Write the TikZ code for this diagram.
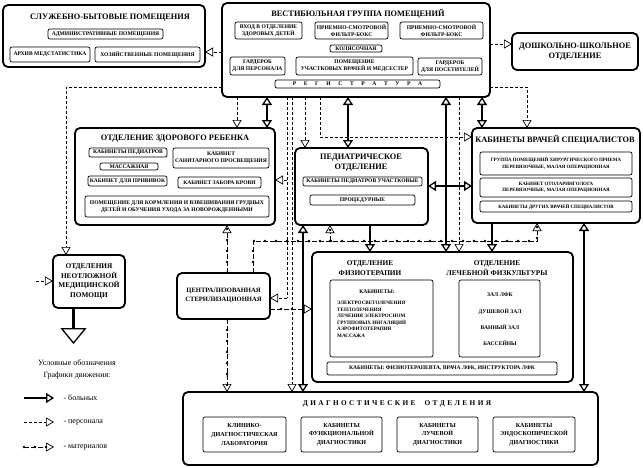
\documentclass[tikz,border=0pt]{standalone}
\usepackage{fontspec}
\setmainfont{Liberation Serif}
\usetikzlibrary{arrows.meta,decorations.markings}

\newcommand\ttlf{\fontsize{8.3}{9.8}\selectfont\bfseries}
\newcommand\midf{\fontsize{7.3}{9.6}\selectfont\bfseries}
\newcommand\smf{\fontsize{5.6}{6.6}\selectfont\bfseries}
\newcommand\tnf{\fontsize{4.9}{6.2}\selectfont\bfseries}
\newcommand\dgf{\fontsize{6.1}{8.6}\selectfont\bfseries}
\newcommand\lgf{\fontsize{8}{9}\selectfont}
\newcommand\gapA{\hspace{2.4pt}}
\newcommand\gapR{\hspace{7.6pt}}
\newcommand\mybox[6]{\node[#1, minimum width={(#4-#2)*1pt}, minimum height={(#5-#3)*1pt}] (#6) at ({(#2+#4)/2},{(#3+#5)/2})}

\tikzset{
 bigbox/.style={draw, line width=1.8pt, rounded corners=5pt, inner sep=0pt, outer sep=0pt},
 subbox/.style={draw, line width=0.7pt, rounded corners=2pt, inner sep=0pt, outer sep=0pt, align=center, font=\smf},
 ttl/.style={inner sep=0pt, align=center, font=\ttlf},
 tpat/.tip={Triangle[open, width=10pt, length=8pt, line width=1.3pt]},
 tstf/.tip={Triangle[open, width=9pt, length=8pt, line width=0.7pt]},
 patient/.style={line width=2.2pt},
 staffl/.style={line width=0.7pt, dash pattern=on 3pt off 2pt},
 matl/.style={line width=0.7pt, dash pattern=on 5pt off 2pt,
   postaction={decorate, decoration={markings, mark=between positions 0 and 1 step 11pt with {\fill circle (1.3pt);}}}},
}

\begin{document}
\begin{tikzpicture}[x=1pt,y=-1pt]
\fill[white] (0,0) rectangle (643,467);
\useasboundingbox (0,0) rectangle (643,467);

% ---------- service rooms
\mybox{bigbox}{3}{5}{205}{67}{sb} {};
\node[ttl] (sbt) at (110,18) {СЛУЖЕБНО-БЫТОВЫЕ ПОМЕЩЕНИЯ};
\mybox{subbox}{48}{29}{163}{39}{sb1} {АДМИНИСТРАТИВНЫЕ ПОМЕЩЕНИЯ};
\mybox{subbox}{10}{47}{90}{62}{sb2} {АРХИВ МЕДСТАТИСТИКА};
\mybox{subbox}{95}{47}{200}{62}{sb3} {ХОЗЯЙСТВЕННЫЕ ПОМЕЩЕНИЯ};

% ---------- vestibule
\mybox{bigbox}{222}{3}{490}{97}{vg} {};
\node[ttl] (vgt) at (358,14) {ВЕСТИБЮЛЬНАЯ ГРУППА ПОМЕЩЕНИЙ};
\mybox{subbox}{235}{22}{302}{39}{v1} {ВХОД В ОТДЕЛЕНИЕ\\ЗДОРОВЫХ ДЕТЕЙ};
\mybox{subbox}{315}{22}{388}{39}{v2} {ПРИЕМНО-СМОТРОВОЙ\\ФИЛЬТР-БОКС};
\mybox{subbox}{400}{22}{483}{39}{v3} {ПРИЕМНО-СМОТРОВОЙ\\ФИЛЬТР-БОКС};
\mybox{subbox}{330}{45}{382}{52}{v4} {КОЛЯСОЧНАЯ};
\mybox{subbox}{230}{57}{285}{75}{v5} {ГАРДЕРОБ\\ДЛЯ ПЕРСОНАЛА};
\mybox{subbox}{296}{57}{413}{75}{v6} {ПОМЕЩЕНИЕ\\УЧАСТКОВЫХ ВРАЧЕЙ И МЕДСЕСТЕР};
\mybox{subbox}{418}{58}{482}{75}{v7} {ГАРДЕРОБ\\ДЛЯ ПОСЕТИТЕЛЕЙ};
\mybox{subbox}{275}{80}{440}{88}{v8} {Р\gapR Е\gapR Г\gapR И\gapR С\gapR Т\gapR Р\gapR А\gapR Т\gapR У\gapR Р\gapR А};

% ---------- preschool
\mybox{bigbox,align=center,font=\ttlf}{512}{33}{638}{70}{dsh} {ДОШКОЛЬНО-ШКОЛЬНОЕ\\ОТДЕЛЕНИЕ};

% ---------- healthy child
\mybox{bigbox}{75}{128}{275}{225}{zd} {};
\node[ttl] (zdt) at (175,139) {ОТДЕЛЕНИЕ ЗДОРОВОГО РЕБЕНКА};
\mybox{subbox}{89}{148}{167}{157}{z1} {КАБИНЕТЫ ПЕДИАТРОВ};
\mybox{subbox}{100}{163}{158}{170}{z2} {МАССАЖНАЯ};
\mybox{subbox}{88}{176}{167}{186}{z3} {КАБИНЕТ ДЛЯ ПРИВИВОК};
\mybox{subbox}{173}{148}{269}{168}{z4} {КАБИНЕТ\\САНИТАРНОГО ПРОСВЕЩЕНИЯ};
\mybox{subbox}{178}{177}{261}{188}{z5} {КАБИНЕТ ЗАБОРА КРОВИ};
\mybox{subbox}{85}{196}{269}{217}{z6} {ПОМЕЩЕНИЕ ДЛЯ КОРМЛЕНИЯ И ВЗВЕШИВАНИЯ ГРУДНЫХ\\ДЕТЕЙ И ОБУЧЕНИЯ УХОДА ЗА НОВОРОЖДЕННЫМИ};

% ---------- pediatric
\mybox{bigbox}{295}{148}{428}{225}{pd} {};
\node[ttl] (pdt) at (361,163) {ПЕДИАТРИЧЕСКОЕ\\ОТДЕЛЕНИЕ};
\mybox{subbox}{303}{177}{422}{186}{p1} {КАБИНЕТЫ ПЕДИАТРОВ УЧАСТКОВЫЕ};
\mybox{subbox}{310}{195}{415}{205}{p2} {ПРОЦЕДУРНЫЕ};

% ---------- specialists
\mybox{bigbox}{472}{128}{640}{223}{sp} {};
\node[ttl] (spt) at (555,140) {КАБИНЕТЫ ВРАЧЕЙ СПЕЦИАЛИСТОВ};
\mybox{subbox,font=\tnf}{480}{152}{632}{175}{s1} {ГРУППА ПОМЕЩЕНИЙ ХИРУРГИЧЕСКОГО ПРИЕМА\\ПЕРЕВЯЗОЧНЫЕ, МАЛАЯ ОПЕРАЦИОННАЯ};
\mybox{subbox,font=\tnf}{480}{178}{632}{197}{s2} {КАБИНЕТ ОТОЛАРИНГОЛОГА\\ПЕРЕВЯЗОЧНЫЕ, МАЛАЯ ОПЕРАЦИОННАЯ};
\mybox{subbox,font=\tnf}{480}{201}{632}{212}{s3} {КАБИНЕТЫ ДРУГИХ ВРАЧЕЙ СПЕЦИАЛИСТОВ};

% ---------- emergency
\mybox{bigbox,align=center,font=\midf}{53}{255}{125}{308}{nm} {ОТДЕЛЕНИЯ\\НЕОТЛОЖНОЙ\\МЕДИЦИНСКОЙ\\ПОМОЩИ};

% ---------- sterilization
\mybox{bigbox,align=center,font=\fontsize{6.6}{9}\selectfont\bfseries}{177}{273}{270}{319}{cs} {ЦЕНТРАЛИЗОВАННАЯ\\СТЕРИЛИЗАЦИОННАЯ};

% ---------- physiotherapy / exercise
\mybox{bigbox}{312}{252}{573}{382}{fz} {};
\node[ttl,font=\midf] (fzt1) at (370,268) {ОТДЕЛЕНИЕ\\ФИЗИОТЕРАПИИ};
\node[ttl,font=\midf] (fzt2) at (497,268) {ОТДЕЛЕНИЕ\\ЛЕЧЕБНОЙ ФИЗКУЛЬТУРЫ};
\mybox{subbox}{330}{280}{433}{357}{f1} {};
\node[inner sep=0pt,font=\smf] (f1t) at (377,292) {КАБИНЕТЫ:};
\node[inner sep=0pt,anchor=north west,align=left,font=\fontsize{5.1}{6.6}\selectfont\bfseries] (f1l) at (337,301)
  {ЭЛЕКТРОСВЕТОЛЕЧЕНИЯ\\ТЕПЛОЛЕЧЕНИЯ\\ЛЕЧЕНИЯ ЭЛЕКТРОСНОМ\\ГРУППОВЫХ ИНГАЛЯЦИЙ\\АЭРОФИТОТЕРАПИЯ\\МАССАЖА};
\mybox{subbox}{459}{280}{540}{357}{f2} {};
\node[inner sep=0pt,align=center,font=\fontsize{5.6}{16.4}\selectfont\bfseries] (f2l) at (500,319.5)
  {ЗАЛ ЛФК\\ДУШЕВОЙ ЗАЛ\\ВАННЫЙ ЗАЛ\\БАССЕЙНЫ};
\mybox{subbox}{327}{362}{557}{375}{f3} {КАБИНЕТЫ: ФИЗИОТЕРАПЕВТА, ВРАЧА ЛФК, ИНСТРУКТОРА ЛФК};

% ---------- diagnostics
\mybox{bigbox}{183}{392}{598}{465}{dg} {};
\node[ttl,font=\fontsize{7.3}{8}\selectfont\bfseries] (dgt) at (397,404)
 {Д\gapA И\gapA А\gapA Г\gapA Н\gapA О\gapA С\gapA Т\gapA И\gapA Ч\gapA Е\gapA С\gapA К\gapA И\gapA Е\hspace{9pt}О\gapA Т\gapA Д\gapA Е\gapA Л\gapA Е\gapA Н\gapA И\gapA Я};
\mybox{subbox,font=\dgf}{203}{417}{286}{452}{d1} {КЛИНИКО-\\ДИАГНОСТИЧЕСКАЯ\\ЛАБОРАТОРИЯ};
\mybox{subbox,font=\dgf}{301}{417}{382}{452}{d2} {КАБИНЕТЫ\\ФУНКЦИОНАЛЬНОЙ\\ДИАГНОСТИКИ};
\mybox{subbox,font=\dgf}{397}{417}{478}{452}{d3} {КАБИНЕТЫ\\ЛУЧЕВОЙ\\ДИАГНОСТИКИ};
\mybox{subbox,font=\dgf}{493}{417}{575}{452}{d4} {КАБИНЕТЫ\\ЭНДОСКОПИЧЕСКОЙ\\ДИАГНОСТИКИ};

% ---------- patient flows
\draw[patient,tpat-tpat] (267,0 |- vg.south) -- (267,0 |- zd.north);
\draw[patient,tpat-tpat] (348,0 |- vg.south) -- (348,0 |- pd.north);
\draw[patient,tpat-tpat] (446,0 |- vg.south) -- (446,0 |- fz.north);
\draw[patient,tpat-tpat] (482,0 |- vg.south) -- (482,0 |- sp.north);
\draw[patient,tpat-tpat] (pd.east |- 0,186) -- (sp.west |- 0,186);
\draw[patient,-tpat] (370,0 |- pd.south) -- (370,0 |- fz.north);
\draw[patient,-tpat] (492,0 |- sp.south) -- (492,0 |- fz.north);
\draw[patient,tpat-tpat] (303,0 |- pd.south) -- (303,0 |- dg.north);
\draw[patient,tpat-tpat] (584,0 |- sp.south) -- (584,0 |- dg.north);
\coordinate (nmout) at (73.5,344);
\draw[patient,-{Triangle[open,width=26pt,length=16pt,line width=1.3pt]}] (73.5,0 |- nm.south) -- (nmout);

% ---------- staff flows
\draw[staffl,-tstf] (vg.west |- 0,52) -- (sb.east |- 0,52);
\draw[staffl,-tstf] (vg.east |- 0,44) -- (dsh.west |- 0,44);
\draw[staffl,-tstf] (vg.west |- 0,87) -| (66,0 |- nm.north);
\draw[staffl,-tstf] (237,0 |- vg.south) -- (237,0 |- zd.north);
\draw[staffl,-tstf] (305,0 |- vg.south) -- (305,0 |- pd.north);
\draw[staffl,-tstf] (320,0 |- vg.south) |- (sp.west |- 0,137);
\draw[staffl,-tstf] (vg.east |- 0,87) -| (527,0 |- sp.north);
\draw[staffl,-tstf] (459,0 |- vg.south) -- (459,0 |- fz.north);
\coordinate (j1) at (287,180);
\coordinate (j2) at (287,298);
\draw[staffl] (287,0 |- vg.south) -- (j2);
\draw[staffl,-tstf] (j1) -- (zd.east |- j1);
\draw[staffl,-tstf] (j2) -- (cs.east |- j2);
\draw[staffl,-tstf] (292,0 |- vg.south) -- (292,0 |- dg.north);
\coordinate (nmin) at (36,281);
\draw[staffl,-tstf] (nmin) -- (nm.west |- nmin);

% ---------- material flows
\coordinate (m2) at (537,241);
\coordinate (m3) at (330,241);
\draw[matl,-tstf] (227,0 |- cs.north) -- (227,0 |- zd.south);
\draw[matl,-tstf] (227,0 |- cs.south) -- (227,0 |- dg.north);
\draw[matl,-tstf] (253,0 |- cs.north) |- (m2) -- (537,0 |- sp.south);
\draw[matl,-tstf] (m3) -- (330,0 |- pd.south);
\draw[matl,-tstf] (cs.east |- 0,309) -- (fz.west |- 0,309);

% ---------- legend
\node[font=\lgf] (lg1) at (77,363) {Условные обозначения};
\node[font=\lgf] (lg2) at (77,376) {Графики движения:};
\coordinate (la1) at (24,398); \coordinate (lb1) at (54,398);
\coordinate (la2) at (24,422); \coordinate (lb2) at (54,422);
\coordinate (la3) at (24,447); \coordinate (lb3) at (54,447);
\draw[patient,-tpat] (la1) -- (lb1);
\draw[staffl,-tstf] (la2) -- (lb2);
\draw[matl,-tstf] (la3) -- (lb3);
\node[anchor=west,font=\lgf] (lt1) at (60,398) {- больных};
\node[anchor=west,font=\lgf] (lt2) at (60,422) {- персонала};
\node[anchor=west,font=\lgf] (lt3) at (60,447) {- материалов};
\end{tikzpicture}
\end{document}
